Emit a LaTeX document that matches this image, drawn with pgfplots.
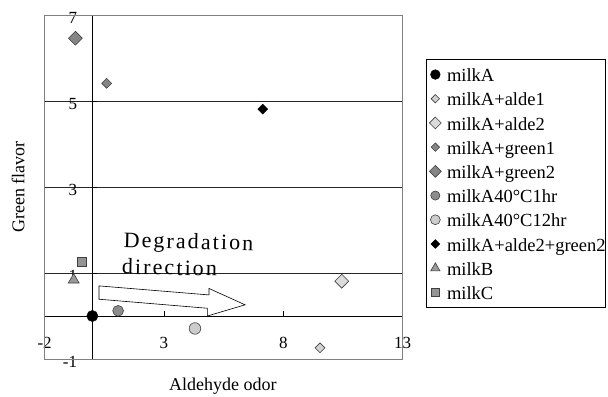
\documentclass[border=0pt]{standalone}
\usepackage{fontspec}
\setmainfont{Liberation Serif}
\newfontfamily\spaced[LetterSpace=9.5]{Liberation Serif}
\usepackage{pgfplots}
\pgfplotsset{compat=1.18}
\definecolor{edge}{gray}{0.25}
\definecolor{lightfill}{gray}{0.82}
\definecolor{lighterfill}{gray}{0.86}
\definecolor{midfill}{gray}{0.52}
\definecolor{circA}{gray}{0.55}
\definecolor{circB}{gray}{0.80}
\definecolor{trifill}{gray}{0.60}
\definecolor{sqfill}{gray}{0.58}
\begin{document}
\begin{tikzpicture}
\useasboundingbox (0,0) rectangle (608bp,397bp);
\begin{axis}[
  at={(44.6bp,38bp)}, anchor=south west,
  scale only axis, width=358bp, height=344bp,
  xmin=-2, xmax=13, ymin=-1, ymax=7,
  clip=false,
  axis lines=middle,
  axis line style={-, black, line width=0.7bp},
  xtick={-2,3,8,13}, ytick={-1,1,3,5,7},
  ymajorgrids, grid style={black!85, line width=0.7bp},
  tick align=inside, major tick length=5bp,
  tick style={black, line width=0.7bp},
  /pgf/number format/assume math mode=true,
  tick label style={font=\fontsize{17bp}{20bp}\selectfont},
  every x tick label/.append style={anchor=center, inner sep=0pt, yshift=-27bp},
  every y tick label/.append style={anchor=east, inner sep=0pt, xshift=-15bp, yshift=-3bp},
  xlabel={Aldehyde odor}, ylabel={Green flavor},
  every axis x label/.style={at={(axis description cs:0.498,-0.078)}, anchor=center, font=\fontsize{18bp}{21bp}\selectfont},
  every axis y label/.style={at={(axis description cs:-0.074,0.5)}, rotate=90, anchor=center, font=\fontsize{18bp}{21bp}\selectfont},
  legend style={at={(1,1)}, anchor=north west, xshift=23.4bp, yshift=-44bp,
    draw=black, line width=0.7bp, inner xsep=0bp, inner ysep=4bp, row sep=1.8bp,
    font=\fontsize{18.5bp}{22bp}\selectfont,
    nodes={inner sep=0pt, text height=18.4bp, text depth=4bp}},
  legend cell align=left,
  legend image code/.code={\path[draw=none,fill=none] (0bp,0bp) -- (20.7bp,0bp); \draw[#1, every mark/.append style={scale=0.85}] plot coordinates {(9bp,0bp)};},
]
\draw[gray, line width=0.7bp] (rel axis cs:0,0) rectangle (rel axis cs:1,1);
\addplot[only marks, mark=*, mark size=5.6bp, draw=black, fill=black] coordinates {(0,0)};
\addlegendentry{milkA}
\addplot[only marks, mark=square*, mark size=3.5bp, mark options={rotate=45, draw=edge, fill=lightfill, line width=0.6bp}] coordinates {(9.54,-0.74)};
\addlegendentry{milkA+alde1}
\addplot[only marks, mark=square*, mark size=4.9bp, mark options={rotate=45, draw=edge, fill=lighterfill, line width=0.6bp}] coordinates {(10.45,0.81)};
\addlegendentry{milkA+alde2}
\addplot[only marks, mark=square*, mark size=3.5bp, mark options={rotate=45, draw=edge, fill=midfill, line width=0.6bp}] coordinates {(0.6,5.41)};
\addlegendentry{milkA+green1}
\addplot[only marks, mark=square*, mark size=4.9bp, mark options={rotate=45, draw=edge, fill=midfill, line width=0.6bp}] coordinates {(-0.71,6.46)};
\addlegendentry{milkA+green2}
\addplot[only marks, mark=*, mark size=5.4bp, mark options={draw=edge, fill=circA, line width=0.6bp}] coordinates {(1.08,0.12)};
\addlegendentry{milkA40°C1hr}
\addplot[only marks, mark=*, mark size=5.8bp, mark options={draw=edge, fill=circB, line width=0.6bp}] coordinates {(4.3,-0.29)};
\addlegendentry{milkA40°C12hr}
\addplot[only marks, mark=square*, mark size=3.5bp, mark options={rotate=45, draw=black, fill=black}] coordinates {(7.14,4.81)};
\addlegendentry{milkA+alde2+green2}
\addplot[only marks, mark=triangle*, mark size=6.3bp, mark options={draw=edge, fill=trifill, line width=0.6bp}] coordinates {(-0.78,0.84)};
\addlegendentry{milkB}
\addplot[only marks, mark=square*, mark size=4.6bp, mark options={draw=edge, fill=sqfill, line width=0.6bp}] coordinates {(-0.45,1.26)};
\addlegendentry{milkC}
\draw[black, fill=white, line width=0.6bp] (axis cs:0.28,0.70) -- (axis cs:4.89,0.49) -- (axis cs:4.89,0.64) -- (axis cs:6.40,0.26) -- (axis cs:4.82,0.0) -- (axis cs:4.82,0.18) -- (axis cs:0.28,0.39) -- cycle;
\node[anchor=base west, inner sep=0pt, rotate=-1.5, font=\fontsize{22bp}{26bp}\spaced] at (axis cs:1.30,1.60) {Degradation};
\node[anchor=base west, inner sep=0pt, rotate=-1.2, font=\fontsize{22bp}{26bp}\spaced] at (axis cs:1.23,0.98) {direction};
\end{axis}
\end{tikzpicture}
\end{document}
